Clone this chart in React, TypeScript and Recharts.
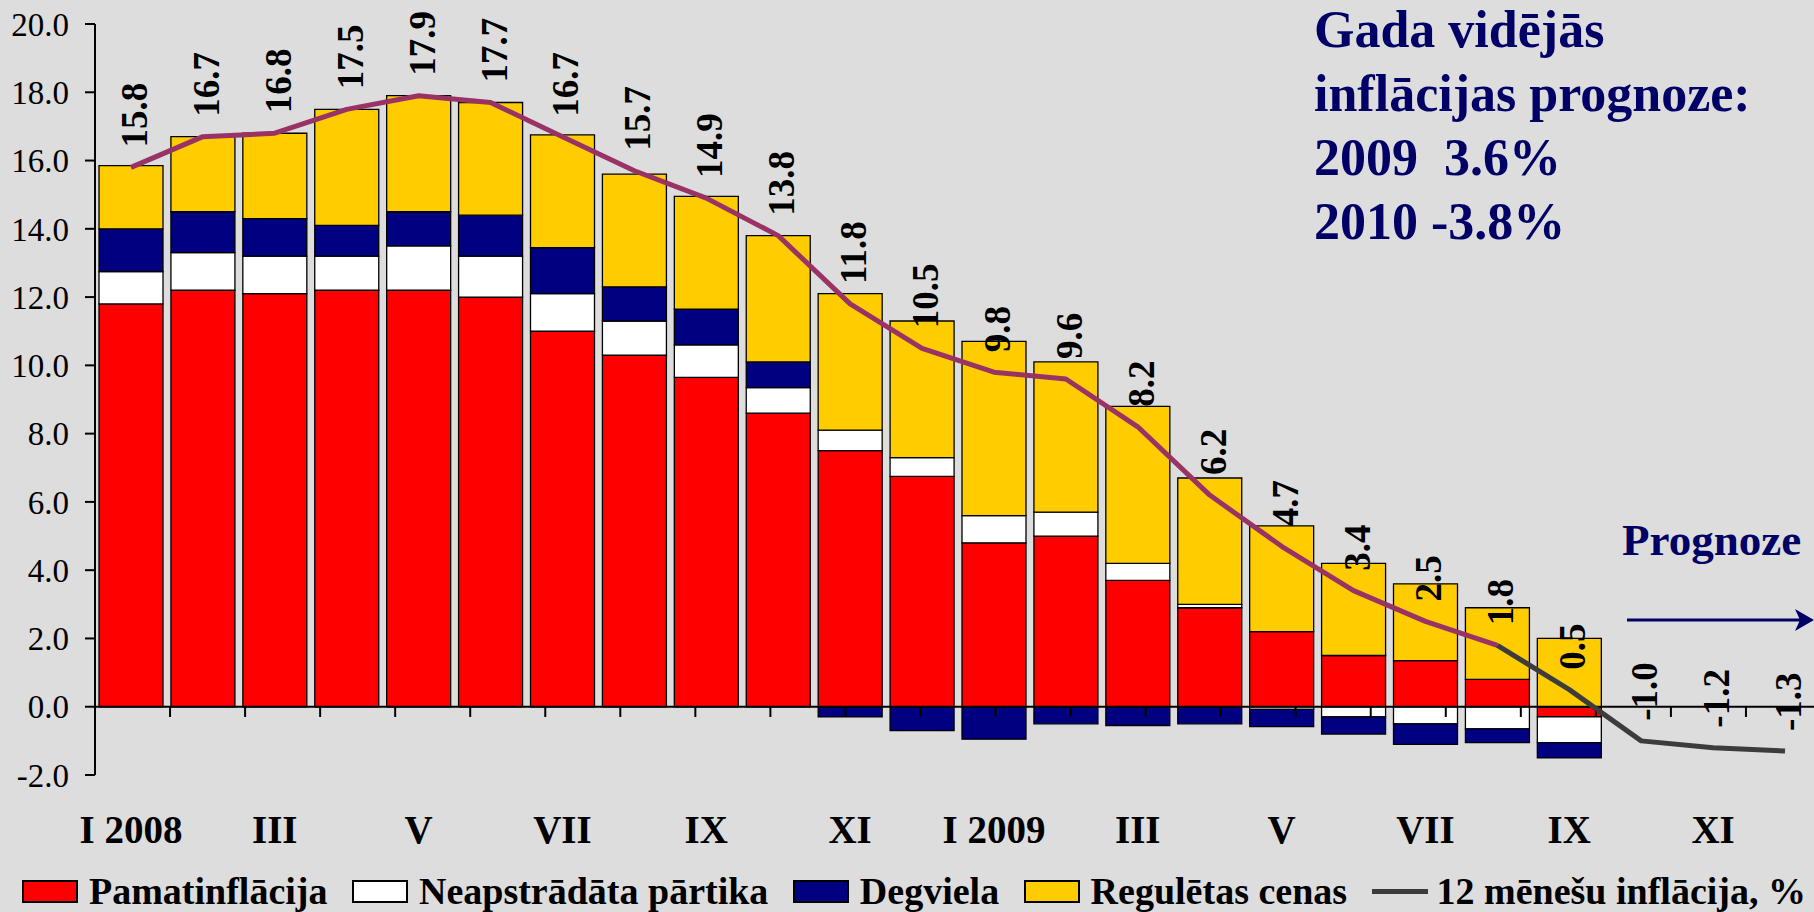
import { ComposedChart, Bar, Line, XAxis, YAxis, ReferenceLine, LabelList, Legend } from 'recharts'

const FONT = '"Liberation Serif", "Times New Roman", serif'
const NAVY_TEXT = '#000066'

// months, I 2008 .. XII 2009 (last three are forecast only)
const months = [
  'I 2008', 'II', 'III', 'IV', 'V', 'VI', 'VII', 'VIII', 'IX', 'X', 'XI', 'XII',
  'I 2009', 'II', 'III', 'IV', 'V', 'VI', 'VII', 'VIII', 'IX', 'X', 'XI', 'XII',
]

// contributions, percentage points
const coreInflation = [11.8, 12.2, 12.1, 12.2, 12.2, 12.0, 11.0, 10.3, 9.65, 8.6, 7.5, 6.75, 4.8, 5.0, 3.7, 2.9, 2.2, 1.5, 1.35, 0.8, -0.3]
const rawFood = [0.95, 1.1, 1.1, 1.0, 1.3, 1.2, 1.1, 1.0, 0.95, 0.75, 0.6, 0.55, 0.8, 0.7, 0.5, 0.1, -0.08, -0.3, -0.5, -0.65, -0.75]
const fuel = [1.25, 1.2, 1.1, 0.9, 1.0, 1.2, 1.35, 1.0, 1.05, 0.75, -0.3, -0.7, -0.95, -0.5, -0.55, -0.5, -0.5, -0.5, -0.6, -0.4, -0.45]
const regulated = [1.85, 2.2, 2.5, 3.4, 3.4, 3.3, 3.3, 3.3, 3.3, 3.7, 4.0, 4.0, 5.1, 4.4, 4.6, 3.7, 3.1, 2.7, 2.25, 2.1, 2.0]

// 12 month inflation, %
const inflation12m = [15.8, 16.7, 16.8, 17.5, 17.9, 17.7, 16.7, 15.7, 14.9, 13.8, 11.8, 10.5, 9.8, 9.6, 8.2, 6.2, 4.7, 3.4, 2.5, 1.8, 0.5, -1.0, -1.2, -1.3]
const lastActual = 19 // VIII 2009, purple line ends here

const yTicks = [-2, 0, 2, 4, 6, 8, 10, 12, 14, 16, 18, 20]
const boundaries = Array.from({ length: 24 }, (_, i) => i + 1)

const rows = months.map((m, i) => ({
  month: m,
  core: coreInflation[i] ?? null,
  food: rawFood[i] ?? null,
  fuel: fuel[i] ?? null,
  regulated: regulated[i] ?? null,
  actual: i <= lastActual ? inflation12m[i] : null,
  forecast: i >= lastActual ? inflation12m[i] : null,
  labelValue: inflation12m[i],
}))

const legendItems = [
  { name: 'Pamatinflācija', color: '#ff0000', kind: 'rect' },
  { name: 'Neapstrādāta pārtika', color: '#ffffff', kind: 'rect' },
  { name: 'Degviela', color: '#000080', kind: 'rect' },
  { name: 'Regulētas cenas', color: '#ffcc00', kind: 'rect' },
  { name: '12 mēnešu inflācija, %', color: '#3c3c3c', kind: 'line' },
]

function ValueLabel(props: any) {
  const { x, y, value } = props
  if (value == null) return null
  const tx = x + 16
  const ty = y - 20
  return (
    <text
      x={tx}
      y={ty}
      transform={`rotate(-90 ${tx} ${ty})`}
      fontFamily={FONT}
      fontWeight="bold"
      fontSize={37}
      fill="#000"
    >
      {Number(value).toFixed(1)}
    </text>
  )
}

function MonthTick(props: any) {
  const { x, y, payload } = props
  return (
    <text x={x} y={y} dy={68} textAnchor="middle" fontFamily={FONT} fontWeight="bold" fontSize={39} fill="#000">
      {payload.value}
    </text>
  )
}

function LegendContent() {
  return (
    <div
      style={{
        display: 'flex',
        alignItems: 'center',
        justifyContent: 'space-between',
        height: 60,
        paddingTop: 18,
        paddingLeft: 22,
        paddingRight: 8,
        boxSizing: 'border-box',
        fontFamily: FONT,
        fontWeight: 'bold',
        fontSize: 38,
        color: '#000',
      }}
    >
      {legendItems.map((item) => (
        <div key={item.name} style={{ display: 'flex', alignItems: 'center', whiteSpace: 'nowrap' }}>
          {item.kind === 'rect' ? (
            <span
              style={{
                display: 'inline-block',
                width: 52,
                height: 19,
                background: item.color,
                border: '2px solid #000',
                marginRight: 11,
              }}
            />
          ) : (
            <span
              style={{
                display: 'inline-block',
                width: 56,
                height: 5,
                background: item.color,
                marginRight: 9,
              }}
            />
          )}
          <span>{item.name}</span>
        </div>
      ))}
    </div>
  )
}

export default function App() {
  return (
    <div
      style={{
        position: 'fixed',
        left: 0,
        top: 0,
        width: 1814,
        height: 912,
        overflow: 'hidden',
        background: '#dddddd',
      }}
    >
      <ComposedChart
        width={1821}
        height={912}
        data={rows}
        stackOffset="sign"
        barCategoryGap={4}
        margin={{ top: 24, right: 0, bottom: 0, left: 0 }}
      >
        <XAxis
          dataKey="month"
          interval={1}
          height={77}
          tickLine={false}
          axisLine={false}
          tickSize={0}
          tickMargin={0}
          tick={<MonthTick />}
        />
        <XAxis xAxisId="edges" type="number" domain={[0, 24]} hide />
        <YAxis
          domain={[-2, 20]}
          ticks={yTicks}
          width={95}
          tickFormatter={(v: number) => v.toFixed(1)}
          tick={{ fill: '#000', fontSize: 33, fontFamily: FONT }}
          tickSize={10}
          tickMargin={16}
          axisLine={{ stroke: '#000', strokeWidth: 2 }}
          tickLine={{ stroke: '#000', strokeWidth: 2 }}
        />
        <Legend verticalAlign="bottom" content={<LegendContent />} wrapperStyle={{ left: 0, bottom: 0, width: 1814, height: 60 }} />

        <Bar dataKey="core" stackId="s" fill="#ff0000" stroke="#000" strokeWidth={1.3} isAnimationActive={false} />
        <Bar dataKey="food" stackId="s" fill="#ffffff" stroke="#000" strokeWidth={1.3} isAnimationActive={false} />
        <Bar dataKey="fuel" stackId="s" fill="#000080" stroke="#000" strokeWidth={1.3} isAnimationActive={false} />
        <Bar dataKey="regulated" stackId="s" fill="#ffcc00" stroke="#000" strokeWidth={1.3} isAnimationActive={false} />

        <ReferenceLine y={0} stroke="#000" strokeWidth={2} />
        {boundaries.map((b) => (
          <ReferenceLine
            key={b}
            xAxisId="edges"
            segment={[{ x: b, y: 0 }, { x: b, y: -0.3 }]}
            stroke="#000"
            strokeWidth={2}
          />
        ))}

        <Line dataKey="actual" stroke="#993366" strokeWidth={5} dot={false} activeDot={false} strokeLinejoin="round" connectNulls={false} isAnimationActive={false} />
        <Line dataKey="forecast" stroke="#3c3c3c" strokeWidth={5} dot={false} activeDot={false} strokeLinejoin="round" connectNulls={false} isAnimationActive={false} />
        <Line dataKey="labelValue" stroke="none" dot={false} activeDot={false} legendType="none" isAnimationActive={false}>
          <LabelList dataKey="labelValue" content={<ValueLabel />} />
        </Line>
      </ComposedChart>

      <svg
        width={1814}
        height={912}
        style={{ position: 'absolute', left: 0, top: 0, pointerEvents: 'none' }}
      >
        <g fontFamily={FONT} fontWeight="bold" fontSize={52} fill={NAVY_TEXT}>
          <text x={1314} y={47}>Gada vidējās</text>
          <text x={1314} y={111}>inflācijas prognoze:</text>
          <text x={1314} y={175} style={{ whiteSpace: 'pre' }}>2009  3.6%</text>
          <text x={1314} y={239}>2010 -3.8%</text>
        </g>
        <text x={1622} y={555} fontFamily={FONT} fontWeight="bold" fontSize={45} fill={NAVY_TEXT}>
          Prognoze
        </text>
        <line x1={1627} y1={620} x2={1800} y2={620} stroke={NAVY_TEXT} strokeWidth={3} />
        <path d="M1795 609 L1814 620 L1795 631 L1800 620 Z" fill={NAVY_TEXT} />
      </svg>
    </div>
  )
}
